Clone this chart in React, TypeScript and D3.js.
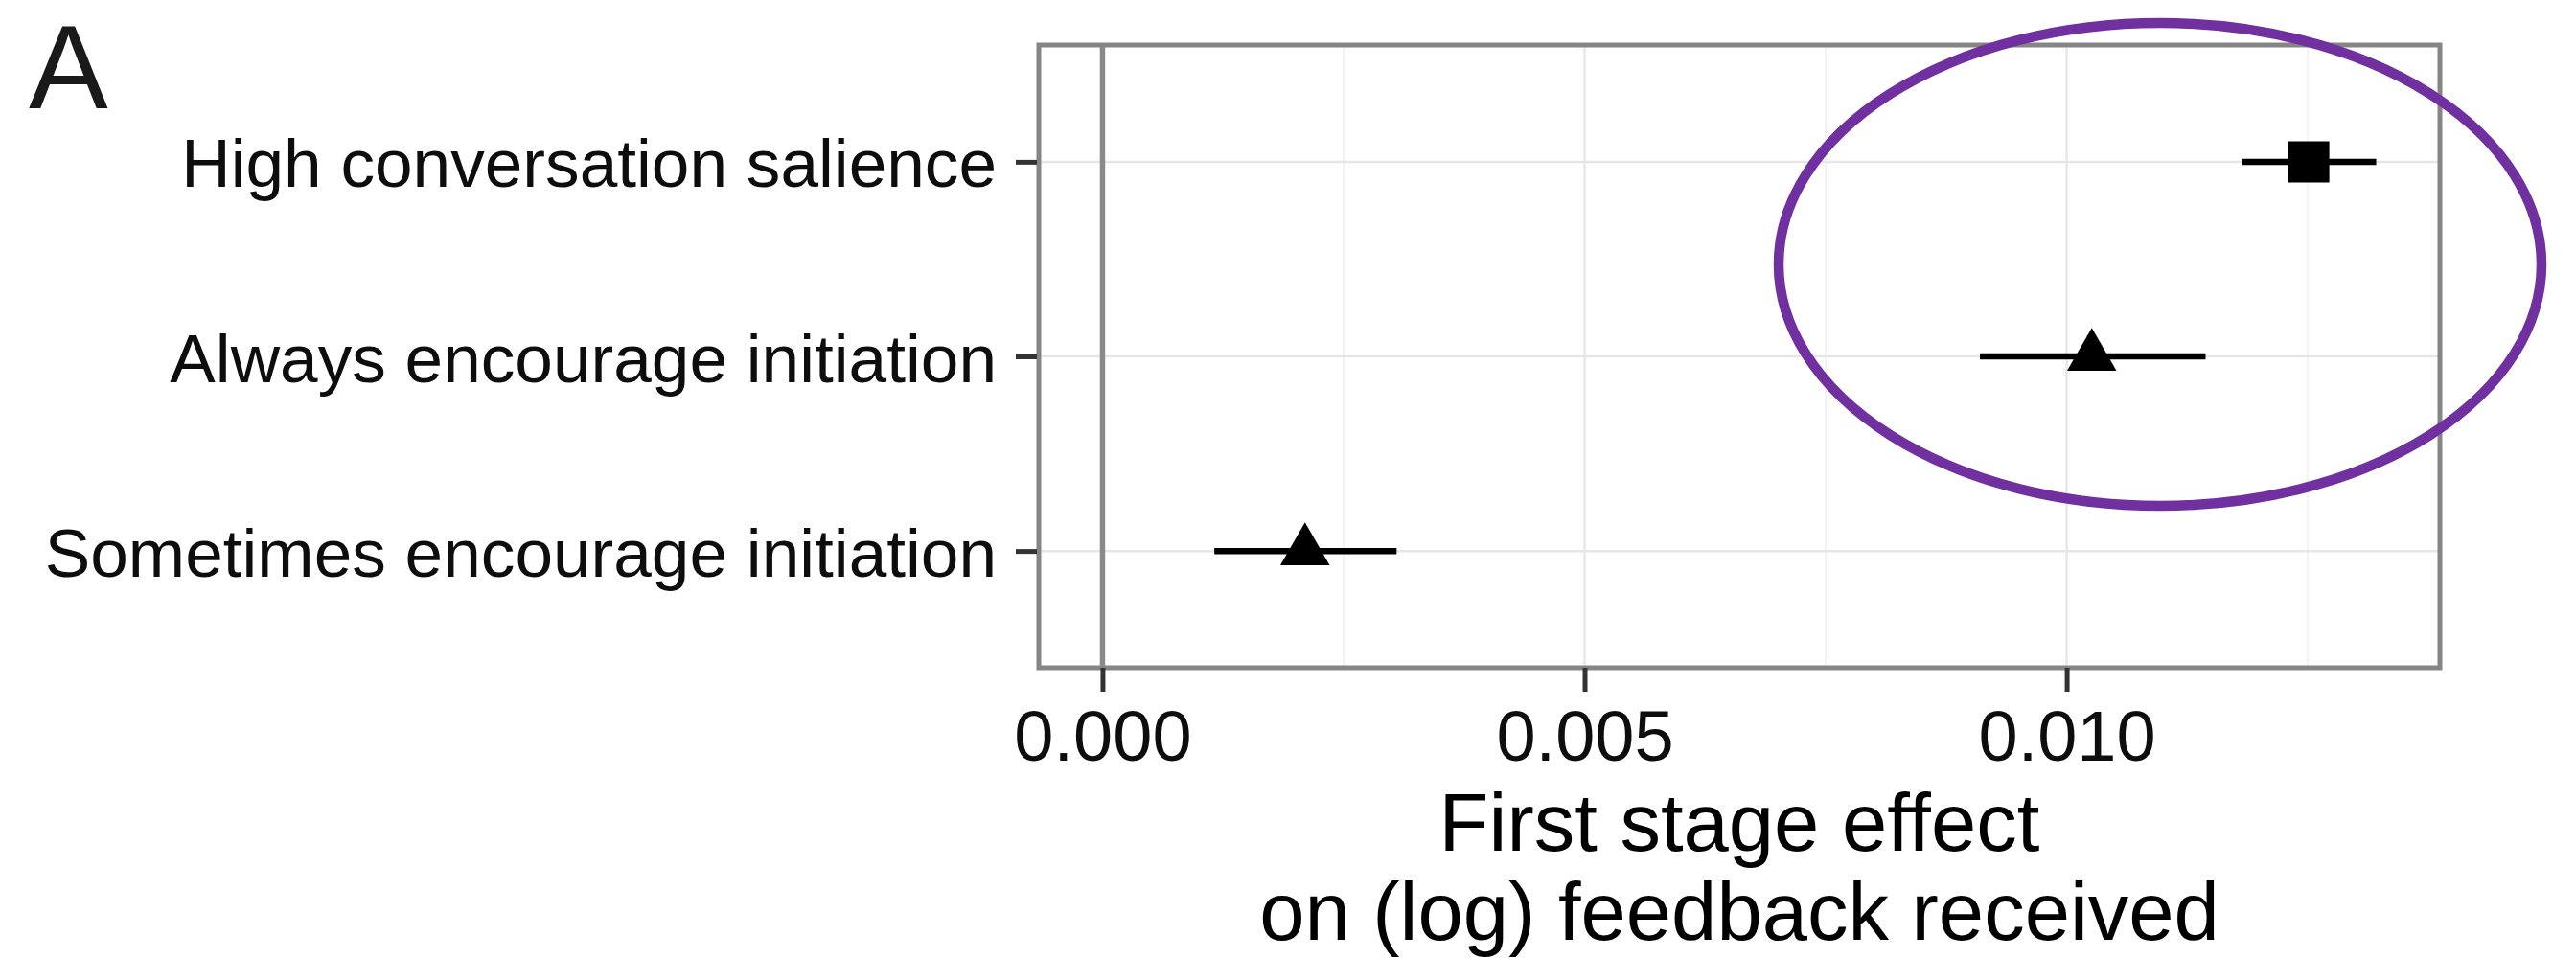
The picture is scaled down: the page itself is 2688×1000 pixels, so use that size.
import * as d3 from "d3";
import React, { useRef, useEffect } from "react";

// treatments, top to bottom
const categories = ["High conversation salience", "Always encourage initiation", "Sometimes encourage initiation"];
// point estimates and 95% CI
const estimates = [0.01251, 0.01026, 0.0021];
const lower = [0.01182, 0.0091, 0.00116];
const upper = [0.01321, 0.01144, 0.00305];
const shapes = ["square", "triangle", "triangle"];
const xTicks = [0, 0.005, 0.01];
const xMinor = [0.0025, 0.0075, 0.0125];
const titleLines = ["First stage effect", "on (log) feedback received"];

const W = 2688;
const H = 1000;
const panel = { left: 1084, right: 2546, top: 47, bottom: 697 };
const FONT = "'Liberation Sans', Arial, Helvetica, sans-serif";

const App = () => {
  const svgRef = useRef<SVGSVGElement | null>(null);

  useEffect(() => {
    const svg = d3.select(svgRef.current);
    svg.selectAll("*").remove();

    // x domain: data + the zero line, padded 5% like ggplot
    const lo = Math.min(0, d3.min(lower) as number);
    const hi = Math.max(0, d3.max(upper) as number);
    const pad = (hi - lo) * 0.05;
    const x = d3.scaleLinear().domain([lo - pad, hi + pad]).range([panel.left, panel.right]);
    const y = d3.scalePoint<string>().domain(categories).range([panel.top, panel.bottom]).padding(0.6);

    const g = svg.append("g");

    // grid
    g.selectAll(".minor")
      .data(xMinor)
      .join("line")
      .attr("x1", (d) => x(d)).attr("x2", (d) => x(d))
      .attr("y1", panel.top).attr("y2", panel.bottom)
      .attr("stroke", "#f3f3f3").attr("stroke-width", 2);
    g.selectAll(".majorx")
      .data(xTicks)
      .join("line")
      .attr("x1", (d) => x(d)).attr("x2", (d) => x(d))
      .attr("y1", panel.top).attr("y2", panel.bottom)
      .attr("stroke", "#e8e8e8").attr("stroke-width", 2.5);
    g.selectAll(".majory")
      .data(categories)
      .join("line")
      .attr("x1", panel.left).attr("x2", panel.right)
      .attr("y1", (d) => y(d)!).attr("y2", (d) => y(d)!)
      .attr("stroke", "#e6e6e6").attr("stroke-width", 2.5);

    // zero reference line
    g.append("line")
      .attr("x1", x(0)).attr("x2", x(0))
      .attr("y1", panel.top).attr("y2", panel.bottom)
      .attr("stroke", "#8a8a8a").attr("stroke-width", 5.5);

    // error bars
    g.selectAll(".err")
      .data(categories)
      .join("line")
      .attr("x1", (_, i) => x(lower[i])).attr("x2", (_, i) => x(upper[i]))
      .attr("y1", (d) => y(d)!).attr("y2", (d) => y(d)!)
      .attr("stroke", "#000").attr("stroke-width", 6.5);

    // points
    const sym = (s: string) =>
      s === "square" ? d3.symbol(d3.symbolSquare, 43 * 43)() : d3.symbol(d3.symbolTriangle, 1150)();
    g.selectAll(".pt")
      .data(categories)
      .join("path")
      .attr("d", (_, i) => sym(shapes[i]))
      .attr("transform", (d, i) => `translate(${x(estimates[i])},${y(d)!})`)
      .attr("fill", "#000");

    // panel border
    g.append("rect")
      .attr("x", panel.left).attr("y", panel.top)
      .attr("width", panel.right - panel.left).attr("height", panel.bottom - panel.top)
      .attr("fill", "none").attr("stroke", "#858585").attr("stroke-width", 5);

    // y axis
    const yAxis = d3.axisLeft(y).tickSize(22).tickPadding(20);
    const ya = svg.append("g").attr("transform", `translate(${panel.left - 2},0)`).call(yAxis);
    ya.select(".domain").remove();
    ya.selectAll(".tick line").attr("stroke", "#333").attr("stroke-width", 5);
    ya.selectAll(".tick text")
      .attr("font-family", FONT).attr("font-size", 71.2).attr("fill", "#0d0d0d")
      .attr("dy", 26);

    // x axis
    const xAxis = d3.axisBottom(x).tickValues(xTicks).tickFormat(d3.format(".3f")).tickSize(25).tickPadding(19);
    const xa = svg.append("g").attr("transform", `translate(0,${panel.bottom})`).call(xAxis);
    xa.select(".domain").remove();
    xa.selectAll(".tick line").attr("stroke", "#333").attr("stroke-width", 5);
    xa.selectAll(".tick text")
      .attr("font-family", FONT).attr("font-size", 74).attr("fill", "#0d0d0d")
      .attr("dy", "0.71em");

    // x title
    svg.append("g")
      .selectAll("text")
      .data(titleLines)
      .join("text")
      .attr("x", (panel.left + panel.right) / 2)
      .attr("y", (_, i) => 888 + i * 93)
      .attr("text-anchor", "middle")
      .attr("font-family", FONT).attr("font-size", 85).attr("fill", "#000")
      .text((d) => d);

    // panel tag
    svg.append("text")
      .attr("x", 30).attr("y", 113)
      .attr("font-family", FONT).attr("font-size", 124).attr("fill", "#1a1a1a")
      .text("A");

    // highlight ellipse
    svg.append("ellipse")
      .attr("cx", 2254).attr("cy", 276)
      .attr("rx", 398).attr("ry", 252)
      .attr("fill", "none").attr("stroke", "#7030a0").attr("stroke-width", 10.5);
  });

  return (
    <div style={{ position: "absolute", left: 0, top: 0, background: "#fff" }}>
      <svg ref={svgRef} width={W} height={H} />
    </div>
  );
};

export default App;
